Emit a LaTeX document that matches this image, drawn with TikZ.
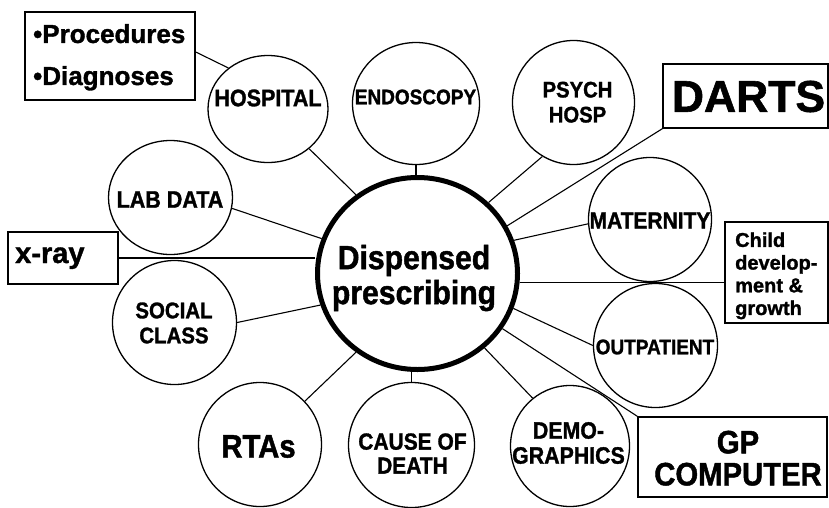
\documentclass[tikz,border=0pt]{standalone}
\usepackage{fontspec}
\setmainfont{Liberation Sans}[FakeBold=1.3]
\newfontfamily\cnd{Liberation Sans}[FakeStretch=0.9, FakeBold=1.3]
\usetikzlibrary{shapes.geometric}
\newcommand\myfs[2]{\fontsize{#1}{#2}\selectfont}
\begin{document}
\begin{tikzpicture}[x=1pt,y=1pt,
  bub/.style={draw, ellipse, line width=1.3pt, inner sep=0pt},
  hubst/.style={draw, ellipse, line width=5pt, inner sep=0pt, minimum width=200pt, minimum height=192pt},
  boxst/.style={draw, rectangle, line width=1.5pt, inner sep=0pt},
  conn/.style={line width=1.1pt},
  lbl/.style={inner sep=0pt, align=center}]
\useasboundingbox (0,0) rectangle (829,-507);
\fill[white] (0,0) rectangle (829,-507);
% hub
\node[hubst] (hub) at (417.5,-273.5) {};
% bubbles
\node[bub, minimum width=120pt, minimum height=107pt] (hosp) at (268,-109) {};
\node[bub, minimum width=127pt, minimum height=122pt] (endo) at (416,-103.5) {};
\node[bub, minimum width=122pt, minimum height=124pt] (psych) at (573.5,-102.5) {};
\node[bub, minimum width=124pt, minimum height=114pt] (lab) at (170.5,-197.5) {};
\node[bub, minimum width=123pt, minimum height=124pt] (mat) at (650,-219.5) {};
\node[bub, minimum width=124pt, minimum height=124pt] (outp) at (655.5,-345.5) {};
\node[bub, minimum width=124pt, minimum height=124pt] (soc) at (174.5,-322.5) {};
\node[bub, minimum width=123pt, minimum height=124pt] (rta) at (260,-444.5) {};
\node[bub, minimum width=126pt, minimum height=125pt] (cause) at (411.5,-445) {};
\node[bub, minimum width=119pt, minimum height=121pt] (demo) at (570,-446) {};
% boxes
\node[boxst, minimum width=170pt, minimum height=88pt] (proc) at (110,-56) {};
\node[boxst, minimum width=110pt, minimum height=52pt] (xray) at (63,-258) {};
\node[boxst, minimum width=165pt, minimum height=64pt] (darts) at (745.5,-96) {};
\node[boxst, minimum width=103pt, minimum height=101pt] (child) at (776.5,-272.5) {};
\node[boxst, minimum width=189pt, minimum height=80pt] (gp) at (732.5,-457) {};
% connectors
\draw[conn] (hub.128) -- (hosp.-44);
\draw[conn] (endo.south) -- (endo.south |- hub.north);
\draw[conn] (hub.45) -- (psych.240);
\draw[conn] (hub.28) -- (darts.south west);
\draw[conn] (hub.19) -- (mat.184);
\draw[conn] (hub.-5) -- (hub.-5 -| child.west);
\draw[conn] (hub.-20) -- (outp.west);
\draw[conn] (hub.-33) -- (gp.north west);
\draw[conn] (hub.-48) -- (demo.128);
\draw[conn] (cause.north) -- (cause.north |- hub.south);
\draw[conn] (hub.-128) -- (rta.44);
\draw[conn] (hub.198) -- (soc.east);
\draw[conn] (xray.east) -- (xray.east -| hub.west);
\draw[conn] (hub.160) -- (lab.-10);
\draw[conn] ([yshift=4pt]proc.east) -- (hosp.134);
% texts
\node[lbl, font={\cnd\myfs{33.5}{35}\bfseries}] (hubt) at (414,-278) {Dispensed\\prescribing};
\node[lbl, font={\cnd\myfs{23.9}{24}\bfseries}] (hospt) at (268,-98) {HOSPITAL};
\node[lbl, font={\cnd\myfs{21.1}{22}\bfseries}] (endot) at (415.5,-97) {ENDOSCOPY};
\node[lbl, font={\cnd\myfs{22.5}{25}\bfseries}] (psycht) at (577.5,-102.2) {PSYCH\\HOSP};
\node[lbl, font={\cnd\myfs{23.9}{24}\bfseries}] (labt) at (170,-199.5) {LAB DATA};
\node[lbl, font={\cnd\myfs{23.3}{24}\bfseries}] (matt) at (650,-220.5) {MATERNITY};
\node[lbl, font={\cnd\myfs{21.1}{22}\bfseries}] (outpt) at (655,-347) {OUTPATIENT};
\node[lbl, font={\cnd\myfs{22.7}{25}\bfseries}] (soct) at (174,-323) {SOCIAL\\CLASS};
\node[lbl, font={\cnd\myfs{32.5}{32}\bfseries}] (rtat) at (258.5,-446.5) {RTAs};
\node[lbl, font={\cnd\myfs{23.3}{24}\bfseries}] (causet) at (412.5,-453.5) {CAUSE OF\\DEATH};
\node[lbl, font={\cnd\myfs{23.7}{25}\bfseries}] (demot) at (568.5,-443) {DEMO-\\GRAPHICS};
\node[inner sep=0pt, align=left, anchor=west, font={\myfs{26}{42}\bfseries}] (proct) at (33,-57.3) {•Procedures\\•Diagnoses};
\node[inner sep=0pt, anchor=base west, font={\myfs{29}{32}\bfseries}] (xrayt) at (15,-263) {x-ray};
\node[lbl, font={\myfs{44.5}{48}\bfseries}] (dartst) at (748.5,-96.5) {DARTS};
\node[inner sep=0pt, align=left, anchor=west, font={\myfs{20}{22.7}\bfseries}] (childt) at (735,-275.8) {Child\\develop-\\ment \&\\growth};
\node[lbl, font={\cnd\myfs{32.5}{32}\bfseries}] (gpt) at (738,-458.2) {GP\\COMPUTER};
\end{tikzpicture}
\end{document}
